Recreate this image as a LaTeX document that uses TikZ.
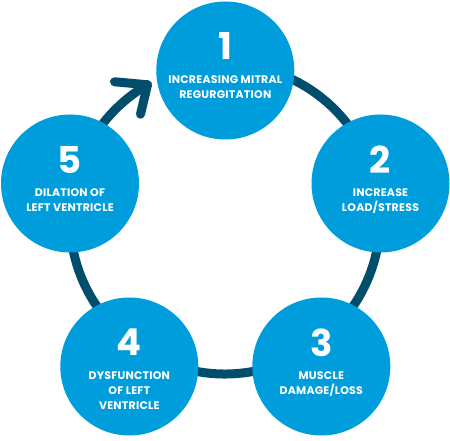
\documentclass[tikz,border=0pt]{standalone}
\usepackage{fontspec}
\newfontfamily\labfont[LetterSpace=2]{Poppins}
\usetikzlibrary{calc}
\definecolor{cfill}{RGB}{0,157,220}
\definecolor{cring}{RGB}{0,78,108}
\tikzset{
  ringline/.style={draw=cring, line width=9pt, line cap=round, line join=round},
  circ/.style={circle, fill=cfill, inner sep=0pt, minimum size=138pt},
  numtxt/.style={text=white, inner sep=0pt, font=\labfont\bfseries\fontsize{37}{37}\selectfont},
  labtxt/.style={text=white, inner sep=0pt, anchor=base, font=\labfont\bfseries\fontsize{11}{12}\selectfont}
}
\begin{document}
\begin{tikzpicture}[x=1pt,y=1pt]
\useasboundingbox (0,0) rectangle (450,441);
\coordinate (ringc) at (225,222);
\draw[ringline] ([shift={(100:155)}]ringc) arc[start angle=100, end angle=-240, radius=155] coordinate (tip);
\coordinate (barbA) at ($(tip)+(-33,3)$);
\coordinate (barbB) at ($(tip)+(-7,-29.5)$);
\draw[ringline] (barbA) -- (tip) -- (barbB);

\node[circ] (c1) at (225.3,370.5) {};
\node[circ] (c2) at (380.5,257.5) {};
\node[circ] (c3) at (321.3,74.5) {};
\node[circ] (c4) at (129.3,74.5) {};
\node[circ] (c5) at (70,257.5) {};

\node[numtxt] (n1) at ($(c1)+(0,24)$) {1};
\node[labtxt] (t1a) at ($(c1)+(0,-12.9)$) {INCREASING MITRAL};
\node[labtxt] (t1b) at ($(c1)+(0,-27.9)$) {REGURGITATION};

\node[numtxt] (n2) at ($(c2)+(0,24)$) {2};
\node[labtxt] (t2a) at ($(c2)+(0,-12.9)$) {INCREASE};
\node[labtxt] (t2b) at ($(c2)+(0,-27.9)$) {LOAD/STRESS};

\node[numtxt] (n3) at ($(c3)+(0,24)$) {3};
\node[labtxt] (t3a) at ($(c3)+(0,-12.9)$) {MUSCLE};
\node[labtxt] (t3b) at ($(c3)+(0,-27.9)$) {DAMAGE/LOSS};

\node[numtxt] (n4) at ($(c4)+(0,24)$) {4};
\node[labtxt] (t4a) at ($(c4)+(0,-12.9)$) {DYSFUNCTION};
\node[labtxt] (t4b) at ($(c4)+(0,-27.9)$) {OF LEFT};
\node[labtxt] (t4c) at ($(c4)+(0,-43.2)$) {VENTRICLE};

\node[numtxt] (n5) at ($(c5)+(0,24)$) {5};
\node[labtxt] (t5a) at ($(c5)+(0,-12.9)$) {DILATION OF};
\node[labtxt] (t5b) at ($(c5)+(0,-27.9)$) {LEFT VENTRICLE};
\end{tikzpicture}
\end{document}
